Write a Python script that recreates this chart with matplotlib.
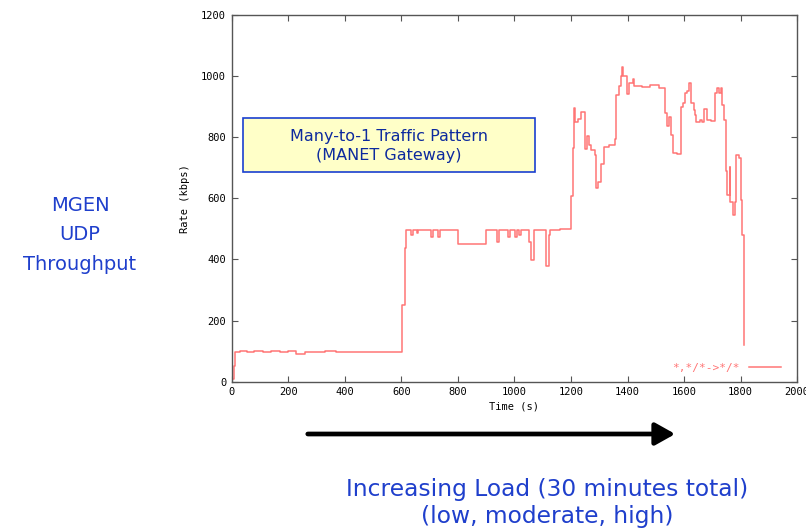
import numpy as np
import matplotlib
matplotlib.use('Agg')
import matplotlib.pyplot as plt
from matplotlib.patches import Rectangle, FancyArrowPatch

# breakpoints of the step trace (time in s, rate in kbps)
t = [0, 8, 12, 30, 55, 80, 110, 140, 170, 200, 228, 260, 290, 330, 370, 410,
     450, 490, 530, 570, 601, 604, 612, 618, 634, 642, 654, 660, 704, 712,
     728, 736, 801, 901, 940, 946, 977, 984, 1001, 1008, 1015, 1022, 1052,
     1060, 1068, 1113, 1121, 1126, 1160, 1199, 1206, 1210, 1213, 1225, 1237,
     1248, 1258, 1263, 1270, 1284, 1287, 1295, 1307, 1317, 1335, 1354, 1358,
     1369, 1378, 1380, 1385, 1387, 1397, 1406, 1419, 1424, 1450, 1480, 1510,
     1531, 1538, 1545, 1553, 1560, 1575, 1588, 1596, 1602, 1611, 1617, 1625,
     1634, 1640, 1643, 1655, 1665, 1672, 1682, 1695, 1708, 1717, 1723, 1729,
     1735, 1741, 1749, 1753, 1761, 1764, 1772, 1779, 1785, 1793, 1800, 1804,
     1811, 1813]
rate = [10, 50, 97, 99, 97, 100, 97, 99, 97, 99, 90, 98, 97, 99, 97, 98,
        96, 98, 97, 98, 175, 251, 437, 497, 480, 497, 485, 497, 475, 497,
        475, 497, 450, 497, 458, 497, 475, 497, 473, 497, 480, 497, 458,
        398, 497, 380, 480, 497, 500, 606, 764, 895, 851, 858, 881,
        761, 805, 775, 759, 742, 635, 653, 713, 768, 775, 795, 939,
        966, 1001, 1029, 1000, 1000, 941, 977, 991, 968, 965, 970, 962,
        879, 835, 866, 808, 748, 745, 900, 912, 944, 950, 977, 912,
        890, 873, 851, 857, 850, 892, 855, 852, 946, 960, 946, 960,
        906, 857, 688, 611, 704, 589, 546, 589, 742, 731, 595, 480,
        120, 120]

fig = plt.figure(figsize=(8.06, 5.29), dpi=100)
ax = fig.add_axes([0.2875, 0.2784, 0.7015, 0.6935])

red = '#ff7575'
ax.plot(t, rate, drawstyle='steps-post', color=red, lw=1.1,
        label='*,*/*->*/*')

ax.set_xlim(0, 2000)
ax.set_ylim(0, 1200)
ax.set_xticks(np.arange(0, 2001, 200))
ax.set_yticks(np.arange(0, 1201, 200))

mono = 'DejaVu Sans Mono'
for s in ax.spines.values():
    s.set_color('#555555')
    s.set_linewidth(1.0)
ax.tick_params(direction='in', top=True, right=True, length=4,
               color='#555555', labelsize=7.5, pad=4)
for lab in ax.get_xticklabels() + ax.get_yticklabels():
    lab.set_family(mono)
ax.set_xlabel('Time (s)', family=mono, fontsize=7.5, labelpad=3)
ax.set_ylabel('Rate (kbps)', family=mono, fontsize=7.5, labelpad=8)

leg = ax.legend(loc='lower right', frameon=False, handlelength=2.9,
                prop={'family': mono, 'size': 8}, borderaxespad=0.2,
                bbox_to_anchor=(0.983, 0.005))
for txt in leg.get_texts():
    txt.set_color(red)
# sample line to the right of the text, like gnuplot
for row in leg._legend_box._children[-1]._children[0]._children:
    row._children = row._children[::-1]

# annotation box inside the plot
ax.add_patch(Rectangle((0.0205, 0.571), 0.5155, 0.148, transform=ax.transAxes,
                       fc='#ffffc8', ec='#1a3fd0', lw=1.2, zorder=3))
ax.text(0.278, 0.643, 'Many-to-1 Traffic Pattern\n(MANET Gateway)',
        transform=ax.transAxes, ha='center', va='center', fontsize=11.5,
        color='#0d2a9e', linespacing=1.3, zorder=4)

blue = '#1f3fcc'
fig.text(80/806, 1-235/529, 'MGEN\nUDP\nThroughput', ha='center', va='center',
         fontsize=14, color=blue, linespacing=1.68)

fig.text(547/806, 1-503/529, 'Increasing Load (30 minutes total)\n(low, moderate, high)',
         ha='center', va='center', fontsize=16.8, color=blue, linespacing=1.2)

fig.patches.append(FancyArrowPatch(
    (305/806, 1-434/529), (678/806, 1-434/529), transform=fig.transFigure,
    arrowstyle='-|>,head_length=0.75,head_width=0.42', mutation_scale=16,
    lw=3.4, color='black'))

fig.savefig('out.png', dpi=100)
